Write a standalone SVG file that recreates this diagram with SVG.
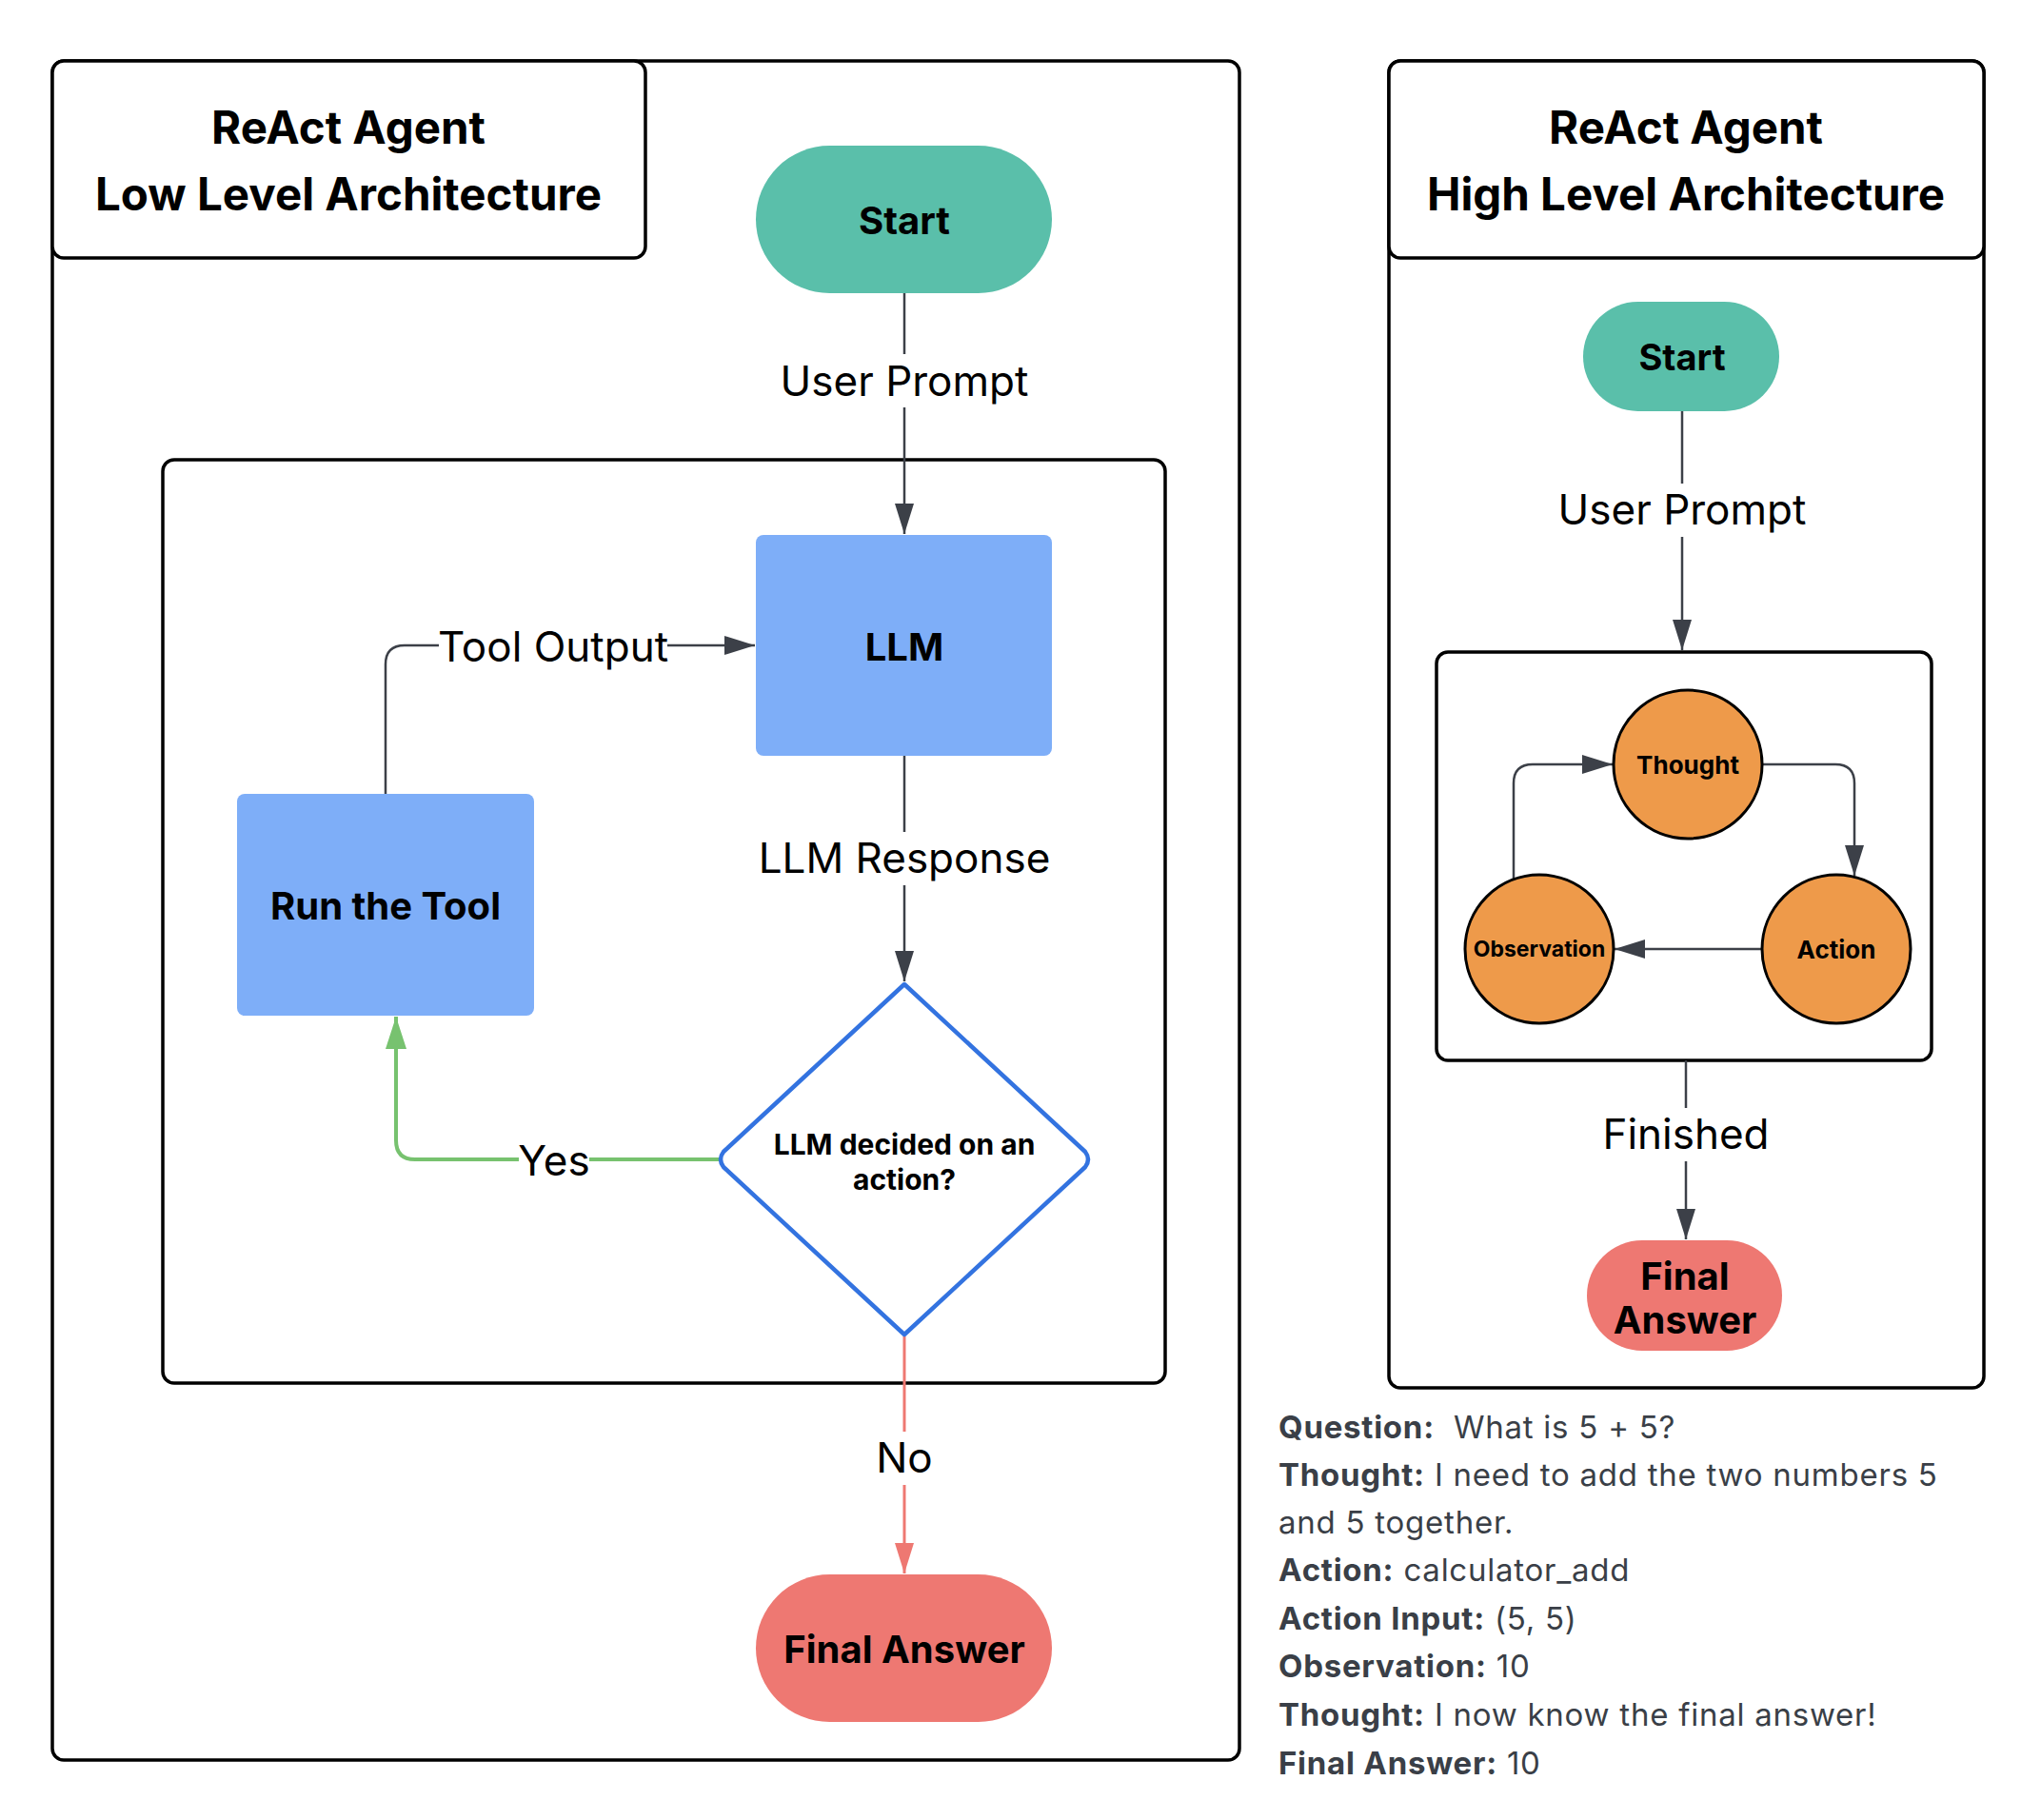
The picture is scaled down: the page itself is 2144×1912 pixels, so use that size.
<svg xmlns="http://www.w3.org/2000/svg" width="2144" height="1912" viewBox="0 0 2144 1912">
<style>
.frame{fill:#fff;stroke:#000;stroke-width:3.5}
.t{font-family:Inter,"Liberation Sans",sans-serif;fill:#000}
.b{font-weight:700}
.title{font-size:47.5px;font-weight:700}
.lbl{font-size:44px}
.conn{fill:none;stroke:#3c4048;stroke-width:2.5}
.lb{fill:#fff}
.txt{font-family:Inter,"Liberation Sans",sans-serif;font-size:33px;letter-spacing:0.75px;fill:#3a3f47}
</style>
<defs>
<marker id="ag" markerUnits="userSpaceOnUse" markerWidth="34" markerHeight="22" refX="32" refY="11" orient="auto"><path d="M0,1 L32,11 L0,21 Z" fill="#3c4048"/></marker>
<marker id="agr" markerUnits="userSpaceOnUse" markerWidth="36" markerHeight="24" refX="34" refY="12" orient="auto"><path d="M0,1 L34,12 L0,23 Z" fill="#77c26f"/></marker>
<marker id="ar" markerUnits="userSpaceOnUse" markerWidth="34" markerHeight="22" refX="32" refY="11" orient="auto"><path d="M0,1 L32,11 L0,21 Z" fill="#ee7872"/></marker>
</defs>

<!-- Frames -->
<g id="low-frame"><rect class="frame" x="55" y="64" width="1247" height="1785" rx="12"/></g>
<g id="low-title"><rect class="frame" x="55" y="64" width="623" height="207" rx="12"/>
<text class="t title" x="366" y="151" text-anchor="middle">ReAct Agent</text>
<text class="t title" x="366" y="221" text-anchor="middle">Low Level Architecture</text></g>
<g id="low-loop"><rect class="frame" x="171" y="483" width="1053" height="970" rx="12"/></g>
<g id="high-frame"><rect class="frame" x="1459" y="64" width="625" height="1394" rx="12"/></g>
<g id="high-title"><rect class="frame" x="1459" y="64" width="625" height="207" rx="12"/>
<text class="t title" x="1771" y="151" text-anchor="middle">ReAct Agent</text>
<text class="t title" x="1771" y="221" text-anchor="middle">High Level Architecture</text></g>
<g id="high-loop"><rect class="frame" x="1509" y="685" width="520" height="429" rx="12"/></g>

<g id="connectors">
<path class="conn" d="M950,308 V561" marker-end="url(#ag)"/>
<path class="conn" d="M405,834 V698 Q405,678 425,678 H793" marker-end="url(#ag)"/>
<path class="conn" d="M950,794 V1031" marker-end="url(#ag)"/>
<path fill="none" stroke="#77c26f" stroke-width="4" d="M757,1218 H436 Q416,1218 416,1198 V1068" marker-end="url(#agr)"/>
<path fill="none" stroke="#ee7872" stroke-width="3" d="M950,1404 V1653" marker-end="url(#ar)"/>
<path class="conn" d="M1767,432 V683" marker-end="url(#ag)"/>
<path class="conn" d="M1590,924 V823 Q1590,803 1610,803 H1694" marker-end="url(#ag)"/>
<path class="conn" d="M1851,803 H1928 Q1948,803 1948,823 V920" marker-end="url(#ag)"/>
<path class="conn" d="M1851,997 H1696" marker-end="url(#ag)"/>
<path class="conn" d="M1771,1114 V1302" marker-end="url(#ag)"/>
<rect class="lb" x="812" y="372" width="276" height="56"/>
<text class="t lbl" x="950" y="400" text-anchor="middle" dominant-baseline="central">User Prompt</text>
<rect class="lb" x="461" y="652" width="240" height="56"/>
<text class="t lbl" x="581" y="679" text-anchor="middle" dominant-baseline="central">Tool Output</text>
<rect class="lb" x="790" y="874" width="320" height="56"/>
<text class="t lbl" x="950" y="901" text-anchor="middle" dominant-baseline="central">LLM Response</text>
<rect class="lb" x="545" y="1192" width="74" height="56"/>
<text class="t lbl" x="582" y="1219" text-anchor="middle" dominant-baseline="central">Yes</text>
<rect class="lb" x="915" y="1504" width="70" height="56"/>
<text class="t lbl" x="950" y="1531" text-anchor="middle" dominant-baseline="central">No</text>
<rect class="lb" x="1630" y="508" width="274" height="56"/>
<text class="t lbl" x="1767" y="535" text-anchor="middle" dominant-baseline="central">User Prompt</text>
<rect class="lb" x="1680" y="1164" width="182" height="56"/>
<text class="t lbl" x="1771" y="1191" text-anchor="middle" dominant-baseline="central">Finished</text>
</g>

<g id="start-low"><rect x="794" y="153" width="311" height="155" rx="77.5" fill="#5abfaa"/>
<text class="t b" x="950" y="231" font-size="40" text-anchor="middle" dominant-baseline="central">Start</text></g>
<g id="llm"><rect x="794" y="562" width="311" height="232" rx="8" fill="#7eaef8"/>
<text class="t b" x="950" y="679" font-size="40" text-anchor="middle" dominant-baseline="central">LLM</text></g>
<g id="run-tool"><rect x="249" y="834" width="312" height="233" rx="8" fill="#7eaef8"/>
<text class="t b" x="405" y="951" font-size="40" text-anchor="middle" dominant-baseline="central">Run the Tool</text></g>
<g id="decision"><path d="M950,1034 L1140,1210 Q1146,1218 1140,1226 L950,1402 L760,1226 Q754,1218 760,1210 Z" fill="#fff" stroke="#3373e0" stroke-width="4.5" stroke-linejoin="round"/>
<text class="t b" x="950" y="1202" font-size="30" text-anchor="middle" dominant-baseline="central">LLM decided on an</text>
<text class="t b" x="950" y="1239" font-size="30" text-anchor="middle" dominant-baseline="central">action?</text></g>
<g id="final-low"><rect x="794" y="1654" width="311" height="155" rx="77.5" fill="#ee7872"/>
<text class="t b" x="950" y="1732" font-size="40" text-anchor="middle" dominant-baseline="central">Final Answer</text></g>

<g id="start-high"><rect x="1663" y="317" width="206" height="115" rx="57.5" fill="#5abfaa"/>
<text class="t b" x="1767" y="375" font-size="38" text-anchor="middle" dominant-baseline="central">Start</text></g>
<g id="thought"><circle cx="1773" cy="803" r="78" fill="#ee9a4a" stroke="#000" stroke-width="3"/>
<text class="t b" x="1773" y="803" font-size="26" text-anchor="middle" dominant-baseline="central">Thought</text></g>
<g id="observation"><circle cx="1617" cy="997" r="78" fill="#ee9a4a" stroke="#000" stroke-width="3"/>
<text class="t b" x="1617" y="997" font-size="23" text-anchor="middle" dominant-baseline="central">Observation</text></g>
<g id="action"><circle cx="1929" cy="997" r="78" fill="#ee9a4a" stroke="#000" stroke-width="3"/>
<text class="t b" x="1929" y="997" font-size="26" text-anchor="middle" dominant-baseline="central">Action</text></g>
<g id="final-high"><rect x="1667" y="1303" width="205" height="116" rx="58" fill="#ee7872"/>
<text class="t b" x="1770" y="1340" font-size="40" text-anchor="middle" dominant-baseline="central">Final</text>
<text class="t b" x="1770" y="1386" font-size="40" text-anchor="middle" dominant-baseline="central">Answer</text></g>

<g id="example">
<text class="txt" x="1343" y="1511" xml:space="preserve"><tspan font-weight="700">Question:</tspan>  What is 5 + 5?</text>
<text class="txt" x="1343" y="1561"><tspan font-weight="700">Thought:</tspan> I need to add the two numbers 5</text>
<text class="txt" x="1343" y="1611">and 5 together.</text>
<text class="txt" x="1343" y="1661"><tspan font-weight="700">Action:</tspan> calculator_add</text>
<text class="txt" x="1343" y="1712"><tspan font-weight="700">Action Input:</tspan> (5, 5)</text>
<text class="txt" x="1343" y="1762"><tspan font-weight="700">Observation:</tspan> 10</text>
<text class="txt" x="1343" y="1813"><tspan font-weight="700">Thought:</tspan> I now know the final answer!</text>
<text class="txt" x="1343" y="1864"><tspan font-weight="700">Final Answer:</tspan> 10</text>
</g>
</svg>
